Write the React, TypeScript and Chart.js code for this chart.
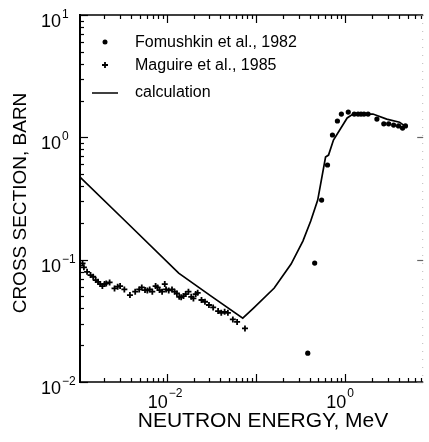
import React, { useEffect, useRef } from "react";
import { Chart, registerables } from "chart.js";

Chart.register(...registerables);

const FONT = '"Liberation Sans", Arial, Helvetica, sans-serif';

// Axis ranges (MeV, barn)
const xMin = 0.001067;
const xMax = 7.46;
const yMin = 0.01;
const yMax = 10;

// Tick label exponents
const xTickExps = [-2, 0];
const yTickExps = [-2, -1, 0, 1];

// Calculation curve
const calcEnergy = [0.001067, 0.00343, 0.0136, 0.0314, 0.071, 0.0938, 0.16, 0.247, 0.335, 0.41, 0.491, 0.601, 0.649, 0.737, 1.05, 1.22, 2.04, 2.91, 4.05, 4.84];
const calcSigma = [0.473, 0.207, 0.0776, 0.0504, 0.0333, 0.0402, 0.0586, 0.092, 0.142, 0.207, 0.307, 0.69, 0.716, 0.95, 1.44, 1.55, 1.55, 1.41, 1.33, 1.21];

// Fomushkin et al., 1982
const fomEnergy = [0.38, 0.454, 0.543, 0.632, 0.718, 0.816, 0.904, 1.08, 1.26, 1.39, 1.5, 1.62, 1.8, 2.26, 2.7, 3.06, 3.48, 3.95, 4.38, 4.72];
const fomSigma = [0.0172, 0.0938, 0.307, 0.594, 1.045, 1.36, 1.55, 1.61, 1.55, 1.55, 1.55, 1.55, 1.55, 1.41, 1.29, 1.29, 1.26, 1.24, 1.19, 1.24];

// Maguire et al., 1985
const magEnergy = [0.00114, 0.00118, 0.00128, 0.0014, 0.0015, 0.0016, 0.0017, 0.0018, 0.0019, 0.00201, 0.0021, 0.00229, 0.0026, 0.00282, 0.003, 0.00335, 0.00387, 0.00443, 0.00491, 0.00525, 0.00571, 0.00606, 0.00644, 0.00689, 0.0075, 0.00789, 0.0083, 0.00887, 0.0095, 0.00982, 0.01052, 0.01145, 0.01226, 0.013, 0.0138, 0.0145, 0.0154, 0.0163, 0.0175, 0.0188, 0.0199, 0.0211, 0.0222, 0.0245, 0.0268, 0.0297, 0.0331, 0.0376, 0.0408, 0.0445, 0.0484, 0.055, 0.0614, 0.0752];
const magSigma = [0.0933, 0.0865, 0.0796, 0.0748, 0.0725, 0.0681, 0.0659, 0.0632, 0.0608, 0.0632, 0.064, 0.0652, 0.0582, 0.0601, 0.0608, 0.0571, 0.0514, 0.0547, 0.0571, 0.0593, 0.0564, 0.0561, 0.0571, 0.0547, 0.0608, 0.0593, 0.0564, 0.0547, 0.0632, 0.0571, 0.0561, 0.0571, 0.0547, 0.053, 0.0497, 0.0493, 0.0504, 0.0523, 0.0547, 0.0497, 0.0482, 0.0523, 0.0536, 0.0468, 0.0453, 0.0426, 0.0407, 0.038, 0.0368, 0.0375, 0.0368, 0.0325, 0.031, 0.0274];

const legendLabels = ["Fomushkin et al., 1982", "Maguire et al., 1985", "calculation"];
const xTitle = "NEUTRON ENERGY, MeV";
const yTitle = "CROSS SECTION, BARN";

function toXY(xs: number[], ys: number[]) {
  return xs.map((x, i) => ({ x, y: ys[i] }));
}

function logTickValues(min: number, max: number) {
  const out: { v: number; major: boolean }[] = [];
  for (let e = Math.floor(Math.log10(min)); e <= Math.ceil(Math.log10(max)); e++) {
    for (let m = 1; m <= 9; m++) {
      const v = m * Math.pow(10, e);
      if (v >= min * 0.999 && v <= max * 1.001) out.push({ v, major: m === 1 });
    }
  }
  return out;
}

function expText(e: number) {
  return e < 0 ? "\u2212" + Math.abs(e) : String(e);
}

const framePlugin = {
  id: "frame",
  afterDatasetsDraw(chart: any) {
    const ctx = chart.ctx as CanvasRenderingContext2D;
    const { left, right, top, bottom } = chart.chartArea;
    const xs = chart.scales.x;
    const ys = chart.scales.y;
    ctx.save();
    ctx.strokeStyle = "#000";
    ctx.fillStyle = "#000";
    ctx.lineCap = "butt";

    // frame lines
    ctx.lineWidth = 2;
    ctx.beginPath();
    ctx.moveTo(left, top - 1);
    ctx.lineTo(left, bottom + 1);
    ctx.stroke();
    ctx.lineWidth = 1.5;
    ctx.beginPath();
    ctx.moveTo(left - 1, bottom);
    ctx.lineTo(right, bottom);
    ctx.moveTo(left - 1, top);
    ctx.lineTo(right, top);
    ctx.stroke();

    // faint right border
    ctx.save();
    ctx.strokeStyle = "#bbb";
    ctx.lineWidth = 1;
    ctx.setLineDash([1, 7]);
    ctx.beginPath();
    ctx.moveTo(right - 0.5, top);
    ctx.lineTo(right - 0.5, bottom);
    ctx.stroke();
    ctx.restore();

    // x ticks (bottom and top, inward)
    ctx.lineWidth = 1.2;
    for (const t of logTickValues(xMin, xMax)) {
      const px = Math.round(xs.getPixelForValue(t.v)) + 0.5;
      const len = t.major ? 8 : 4;
      ctx.beginPath();
      ctx.moveTo(px, bottom);
      ctx.lineTo(px, bottom - len);
      ctx.moveTo(px, top);
      ctx.lineTo(px, top + len);
      ctx.stroke();
    }
    // y ticks (left inward, right faint majors)
    for (const t of logTickValues(yMin, yMax)) {
      const py = Math.round(ys.getPixelForValue(t.v)) + 0.5;
      const len = t.major ? 8 : 4;
      ctx.beginPath();
      ctx.moveTo(left, py);
      ctx.lineTo(left + len, py);
      ctx.stroke();
      if (t.major) {
        ctx.save();
        ctx.strokeStyle = "#666";
        ctx.beginPath();
        ctx.moveTo(right, py);
        ctx.lineTo(right - 6, py);
        ctx.stroke();
        ctx.restore();
      }
    }

    // tick labels
    const drawPow = (e: number, anchorX: number, baseY: number, expBaseY: number) => {
      ctx.font = `18px ${FONT}`;
      ctx.textAlign = "right";
      ctx.textBaseline = "alphabetic";
      ctx.fillText("10", anchorX, baseY);
      ctx.font = `12px ${FONT}`;
      ctx.textAlign = "left";
      ctx.fillText(expText(e), anchorX + 1, expBaseY);
    };
    for (const e of yTickExps) {
      const py = ys.getPixelForValue(Math.pow(10, e));
      drawPow(e, 61, py + 12, py + 3);
    }
    for (const e of xTickExps) {
      const px = xs.getPixelForValue(Math.pow(10, e));
      drawPow(e, px + 1, bottom + 26, bottom + 15);
    }

    // axis titles
    ctx.font = `21px ${FONT}`;
    ctx.textAlign = "center";
    ctx.textBaseline = "middle";
    ctx.fillText(xTitle, 263, 421);
    ctx.save();
    ctx.font = `19px ${FONT}`;
    ctx.translate(21, 203);
    ctx.rotate(-Math.PI / 2);
    ctx.fillText(yTitle, 0, 0);
    ctx.restore();

    // legend
    const mx = 105;
    const rowsY = [42, 65, 93];
    const baseY = [47, 70, 97];
    ctx.beginPath();
    ctx.arc(mx, rowsY[0], 2.5, 0, Math.PI * 2);
    ctx.fill();
    ctx.lineWidth = 1.8;
    ctx.beginPath();
    ctx.moveTo(mx - 3, rowsY[1]);
    ctx.lineTo(mx + 3, rowsY[1]);
    ctx.moveTo(mx, rowsY[1] - 3);
    ctx.lineTo(mx, rowsY[1] + 3);
    ctx.stroke();
    ctx.lineWidth = 1.5;
    ctx.beginPath();
    ctx.moveTo(92, rowsY[2]);
    ctx.lineTo(118, rowsY[2]);
    ctx.stroke();
    ctx.font = `16px ${FONT}`;
    ctx.textAlign = "left";
    ctx.textBaseline = "alphabetic";
    legendLabels.forEach((s, i) => ctx.fillText(s, 135, baseY[i]));

    ctx.restore();
  },
};

export default function App() {
  const ref = useRef<HTMLCanvasElement | null>(null);
  useEffect(() => {
    if (!ref.current) return;
    const chart = new Chart(ref.current, {
      type: "scatter",
      data: {
        datasets: [
          {
            label: legendLabels[2],
            data: toXY(calcEnergy, calcSigma),
            showLine: true,
            borderColor: "#000",
            borderWidth: 1.7,
            pointRadius: 0,
            tension: 0,
          },
          {
            label: legendLabels[0],
            data: toXY(fomEnergy, fomSigma),
            pointStyle: "circle",
            pointRadius: 2.6,
            backgroundColor: "#000",
            borderColor: "#000",
            borderWidth: 0,
          },
          {
            label: legendLabels[1],
            data: toXY(magEnergy, magSigma),
            pointStyle: "cross",
            pointRadius: 3,
            borderColor: "#000",
            borderWidth: 1.8,
          },
        ],
      },
      options: {
        animation: false,
        responsive: false,
        devicePixelRatio: 1,
        layout: { padding: { left: 80, top: 15, right: 1, bottom: 60 } },
        plugins: { legend: { display: false }, tooltip: { enabled: false } },
        scales: {
          x: { type: "logarithmic", min: xMin, max: xMax, display: false },
          y: { type: "logarithmic", min: yMin, max: yMax, display: false },
        },
      } as any,
      plugins: [framePlugin],
    });
    return () => chart.destroy();
  }, []);
  return (
    <div style={{ position: "absolute", left: 0, top: 0, width: 429, height: 442, background: "#fff" }}>
      <canvas ref={ref} width={429} height={442} style={{ width: 429, height: 442 }} />
    </div>
  );
}
